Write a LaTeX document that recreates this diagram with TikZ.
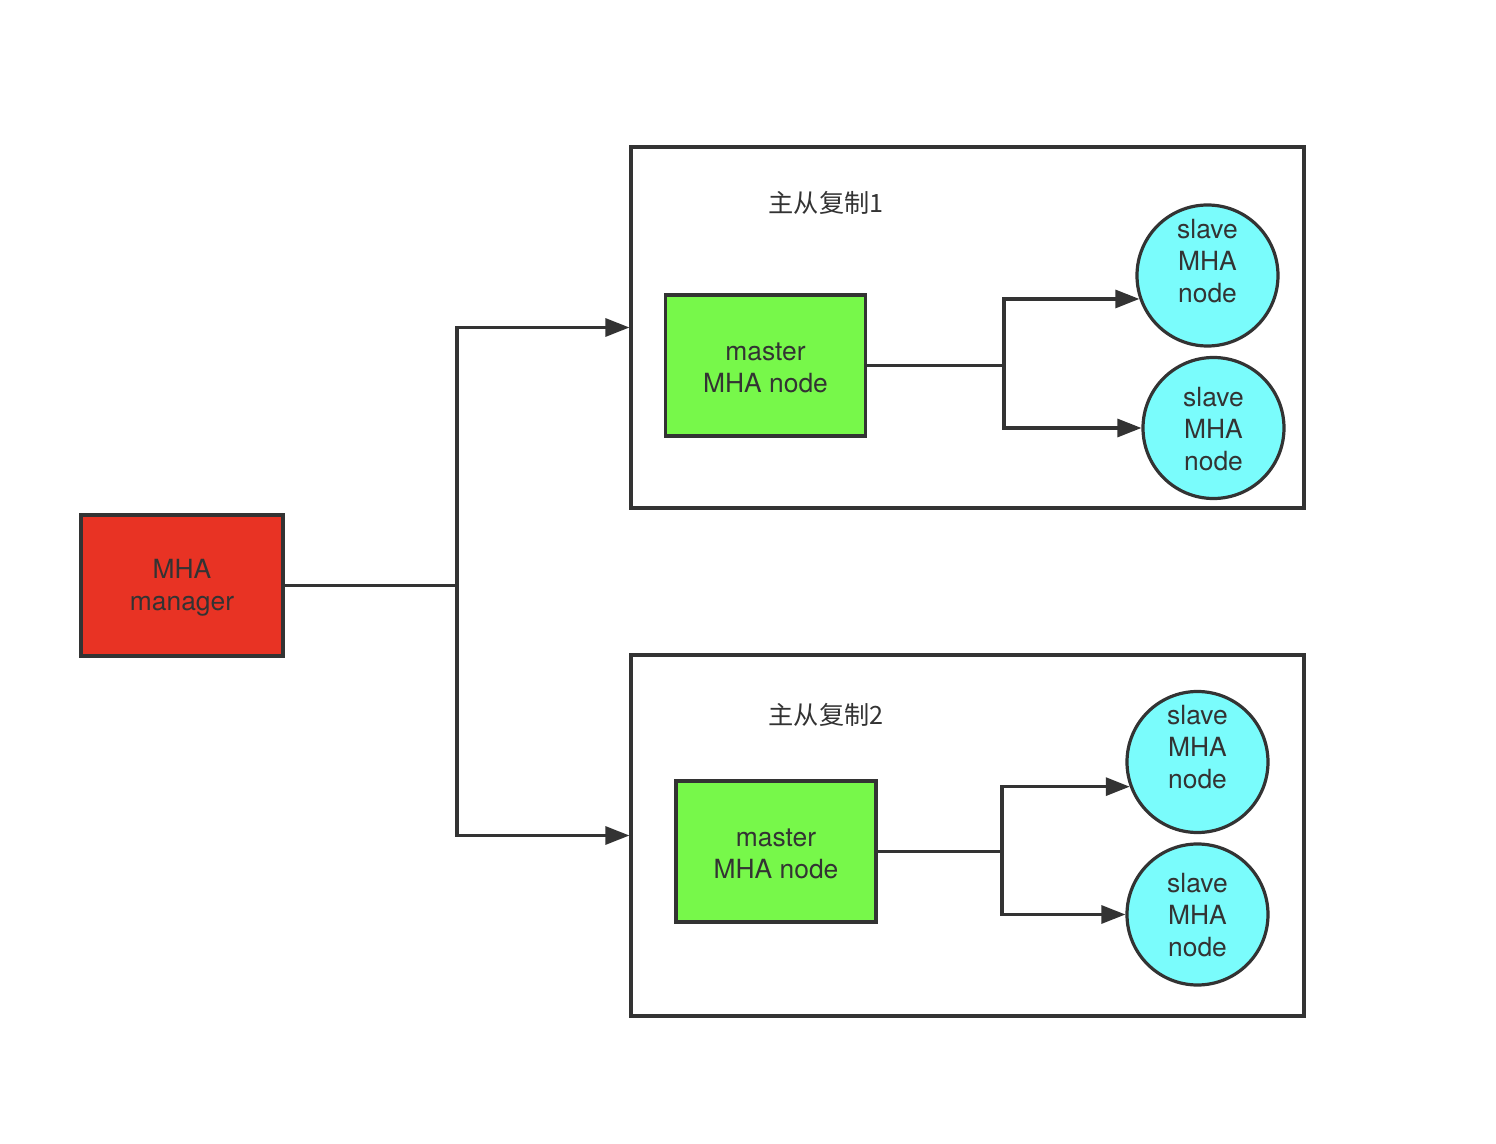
\documentclass[tikz,border=0pt]{standalone}
\usepackage{fontspec}
\setmainfont{TeX Gyre Heros}
\newfontfamily\cjk{Noto Sans CJK SC}
\usetikzlibrary{arrows.meta,calc}
\definecolor{ink}{HTML}{333333}
\definecolor{mgrred}{HTML}{E83324}
\definecolor{mgreen}{HTML}{77F84A}
\definecolor{scyan}{HTML}{7AFCFC}
\tikzset{
  txt/.style={text=ink,font=\fontsize{13.2pt}{16pt}\selectfont},
  box/.style={draw=ink,line width=1.6pt,inner sep=0pt,align=center,txt},
  mgrbox/.style={box,fill=mgrred,minimum width=101pt,minimum height=70.5pt},
  masterbox/.style={box,fill=mgreen,minimum width=100pt,minimum height=70.5pt},
  groupbox/.style={draw=ink,line width=1.6pt,inner sep=0pt,minimum width=336.5pt,minimum height=180.5pt},
  slavecirc/.style={circle,draw=ink,line width=1.6pt,fill=scyan,minimum size=70.5pt,inner sep=0pt},
  slavetext/.style={align=center,txt,inner sep=0pt},
  grouplabel/.style={text=ink,font=\cjk\fontsize{12.6pt}{16pt}\selectfont,inner sep=0pt},
  conn/.style={draw=ink,line width=1.6pt},
  arr/.style={conn,-{Triangle[length=12pt,width=9pt]}},
}
\begin{document}
\begin{tikzpicture}[x=0.5pt,y=-0.5pt]
\useasboundingbox (0,0) rectangle (1496,1144);
% groups
\node[groupbox] (g1) at (967.5,327.5) {};
\node[groupbox] (g2) at (967.5,835.5) {};
\node[grouplabel] (l1) at (826,203) {主从复制1};
\node[grouplabel] (l2) at (826,715) {主从复制2};
% manager
\node[mgrbox] (mgr) at (182,585.5) {};
\node[slavetext] (mgrt) at (182,588) {MHA\\manager};
% masters
\node[masterbox] (m1) at (765.5,365.5) {};
\node[slavetext] (m1t) at (765.5,367.5) {master\\MHA node};
\node[masterbox] (m2) at (776,851.5) {};
\node[slavetext] (m2t) at (776,853.5) {master\\MHA node};
% slaves
\node[slavecirc] (s11) at (1207.5,275.5) {};
\node[slavecirc] (s12) at (1213.5,428) {};
\node[slavecirc] (s21) at (1197.5,762) {};
\node[slavecirc] (s22) at (1197.5,914.5) {};
\node[slavetext] (t11) at (1207.5,261) {slave\\MHA\\node};
\node[slavetext] (t12) at (1213.5,429) {slave\\MHA\\node};
\node[slavetext] (t21) at (1197.5,747) {slave\\MHA\\node};
\node[slavetext] (t22) at (1197.5,915) {slave\\MHA\\node};
% junctions
\coordinate (j) at (457,585.5);
\coordinate (k1) at (1004,365.5);
\coordinate (k2) at (1002,851.5);
% connectors
\draw[conn] (mgr.east) -- (j);
\draw[arr] (j) |- (g1.west);
\draw[arr] (j) |- (g2.west);
\draw[conn] (m1.east) -- (k1);
\draw[arr] (k1) |- (s11.199);
\draw[arr] (k1) |- (s12.west);
\draw[conn] (m2.east) -- (k2);
\draw[arr] (k2) |- (s21.200);
\draw[arr] (k2) |- (s22.west);
\end{tikzpicture}
\end{document}
